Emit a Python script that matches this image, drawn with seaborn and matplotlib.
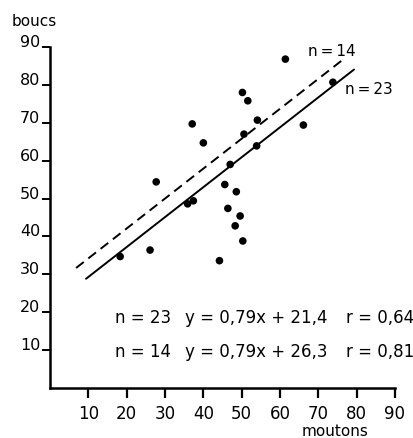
import numpy as np
import pandas as pd
import seaborn as sns
import matplotlib
matplotlib.use('Agg')
import matplotlib.pyplot as plt

# points (moutons, boucs)
moutons = [27.7, 37.1, 40.0, 35.9, 37.4, 45.6, 48.6, 46.4, 49.6, 47.0, 50.2, 51.6,
           54.1, 50.6, 53.9, 61.4, 66.1, 73.8, 18.3, 26.1, 44.2, 48.3, 50.3]
boucs = [54.4, 69.7, 64.7, 48.6, 49.4, 53.7, 51.8, 47.4, 45.4, 59.0, 78.0, 75.8,
         70.7, 67.0, 63.9, 86.8, 69.4, 80.7, 34.7, 36.4, 33.6, 42.8, 38.8]

# regression lines: n, slope, intercept, r, drawn x range
fit_n = [23, 14]
fit_slope = [0.79, 0.79]
fit_icpt = [21.4, 26.3]
fit_r = ['0,64', '0,81']
fit_x0 = [9.4, 6.8]
fit_x1 = [79.3, 77.0]

ticks = [10, 20, 30, 40, 50, 60, 70, 80, 90]

sns.set_style('ticks')
plt.rcParams['font.family'] = ['DejaVu Sans']
plt.rcParams['text.color'] = 'black'

fig = plt.figure(figsize=(4.14, 4.38), dpi=100)
ax = fig.add_axes([0.1208, 0.1142, 0.8333, 0.7785])

pts = pd.DataFrame({'moutons': moutons, 'boucs': boucs})
sns.scatterplot(data=pts, x='moutons', y='boucs', color='black', s=30,
                edgecolor='none', ax=ax, zorder=3)

styles = ['-', (0, (5, 3))]
for i in range(2):
    xs = np.array([fit_x0[i], fit_x1[i]])
    line = pd.DataFrame({'x': xs, 'y': fit_slope[i] * xs + fit_icpt[i]})
    sns.lineplot(data=line, x='x', y='y', color='black', lw=1.4,
                 linestyle=styles[i], ax=ax)

ax.set_xlim(0, 90)
ax.set_ylim(0, 90)
ax.set_xticks(ticks)
ax.set_yticks(ticks)
ax.set_xticklabels([str(t) for t in ticks], fontsize=12)
ax.set_yticklabels([str(t) for t in ticks], fontsize=11.5, va='baseline')
ax.tick_params(axis='x', length=7, width=1.6, pad=5, colors='black')
ax.tick_params(axis='y', length=6, width=1.4, pad=1, colors='black')
ax.set_xlabel('')
ax.set_ylabel('')
sns.despine(ax=ax)
for sp in ['left', 'bottom']:
    ax.spines[sp].set_linewidth(1.8)
    ax.spines[sp].set_color('black')

# labels of the lines
ax.text(67.2, 88.9, 'n\u2009=\u200914', fontsize=11, ha='left', va='center', clip_on=False)
ax.text(77.0, 78.9, 'n\u2009=\u200923', fontsize=11, ha='left', va='center', clip_on=False)

# equations
for i, yy in enumerate([18.5, 9.5]):
    eq = 'y = 0,79x + ' + ('%.1f' % fit_icpt[i]).replace('.', ',')
    ax.text(17.0, yy, 'n = %d' % fit_n[i], fontsize=12, va='center')
    ax.text(35.2, yy, eq, fontsize=12, va='center')
    ax.text(77.3, yy, 'r = ' + fit_r[i], fontsize=12, va='center', clip_on=False)

fig.text(12 / 414, 1 - 22 / 438, 'boucs', fontsize=11, ha='left', va='center')
fig.text(335 / 414, 1 - 432 / 438, 'moutons', fontsize=11, ha='center', va='center')

plt.savefig('out.png', dpi=100)
